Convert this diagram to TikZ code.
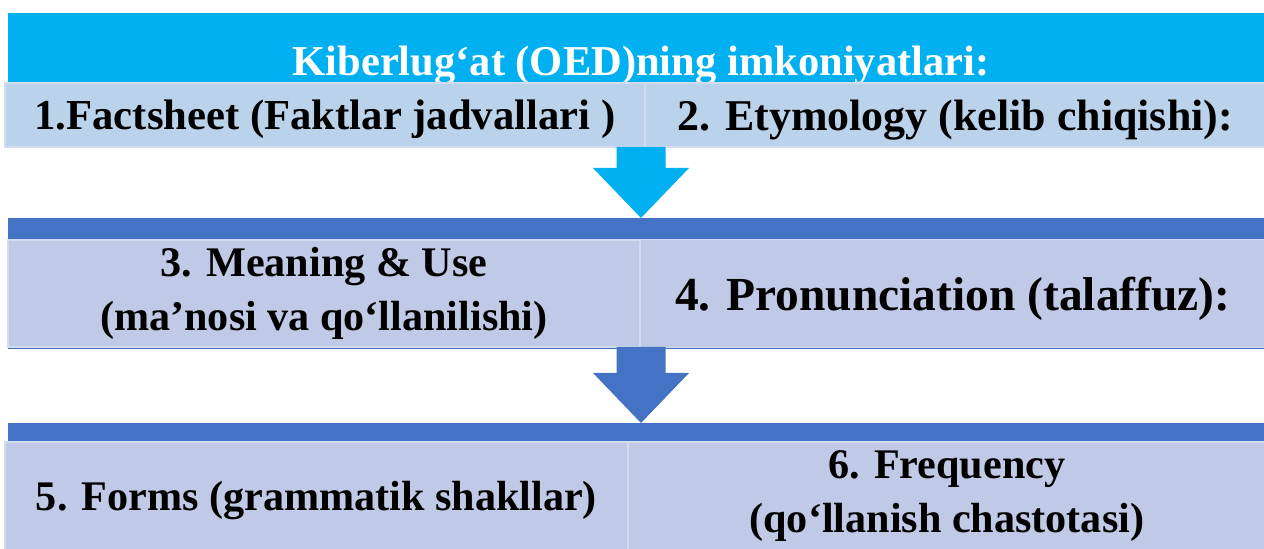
\documentclass[tikz,border=0pt]{standalone}
\usepackage{fontspec}
\setmainfont{Liberation Serif}
\usetikzlibrary{positioning}
\definecolor{cyanbar}{HTML}{00B0F0}
\definecolor{bluebar}{HTML}{4472C4}
\definecolor{cellA}{HTML}{BBD2EB}
\definecolor{cellB}{HTML}{C0C9E5}
\definecolor{cellline}{HTML}{D3DBEF}
\tikzset{
  bar/.style={rectangle, inner sep=0pt, outer sep=0pt, anchor=north west, minimum width=25.12cm},
  cell/.style={rectangle, inner sep=0pt, outer sep=0pt, anchor=north west, draw=cellline, line width=1.1pt, align=center, font=\fontsize{24}{30.5}\selectfont\bfseries},
  oneline/.style={text depth=0pt},
  ttltext/.style={anchor=base, text=white, font=\fontsize{24.2}{30}\selectfont\bfseries},
  pics/downarr/.style={code={
    \path[pic actions] (-24.5,0) -- (24.5,0) -- (24.5,#1-50) -- (48,#1-50) -- (0,#1) -- (-48,#1-50) -- (-24.5,#1-50) -- cycle;
  }}
}
\begin{document}
\begin{tikzpicture}[x=0.02cm, y=-0.02cm]
	\useasboundingbox (0,0) rectangle (1264,548);
	% bars
	\node[bar, fill=cyanbar, minimum height=1.4cm] (bar1) at (8,13) {};
	\node[bar, fill=bluebar, minimum height=2.62cm] (bar2) at (8,218) {};
	\node[bar, fill=bluebar, minimum height=2.6cm] (bar3) at (8,423) {};
	\node[ttltext] (ttl) at (641,75) {Kiberlug‘at (OED)ning imkoniyatlari:};
	% row 1
	\node[cell, oneline, fill=cellA, minimum width=12.8cm, minimum height=1.28cm, font=\fontsize{24.3}{30}\selectfont\bfseries] (f1) at (5,83) {1.Factsheet (Faktlar jadvallari )};
	\node[cell, oneline, fill=cellA, minimum width=12.42cm, minimum height=1.28cm, font=\fontsize{25}{30}\selectfont\bfseries, right=0pt of f1] (f2) {2. Etymology (kelib chiqishi):};
	% row 2
	\node[cell, fill=cellB, minimum width=12.64cm, minimum height=2.14cm] (m1) at (8,240) {3. Meaning \& Use\\(ma’nosi va qo‘llanilishi)};
	\node[cell, oneline, fill=cellB, minimum width=12.52cm, minimum height=2.16cm, font=\fontsize{27}{30}\selectfont\bfseries, right=0pt of m1] (m2) {4. Pronunciation (talaffuz):};
	% row 3
	\node[cell, oneline, fill=cellB, minimum width=12.46cm, minimum height=2.16cm] (s1) at (5,442) {5. Forms (grammatik shakllar)};
	\node[cell, fill=cellB, minimum width=12.76cm, minimum height=2.16cm, right=0pt of s1] (s2) {6. Frequency\\(qo‘llanish chastotasi)};
	%
	\pic[fill=cyanbar] at (ttl |- f1.south) {downarr=71};
	\pic[fill=bluebar] at (ttl |- m1.south) {downarr=76};
\end{tikzpicture}
\end{document}
